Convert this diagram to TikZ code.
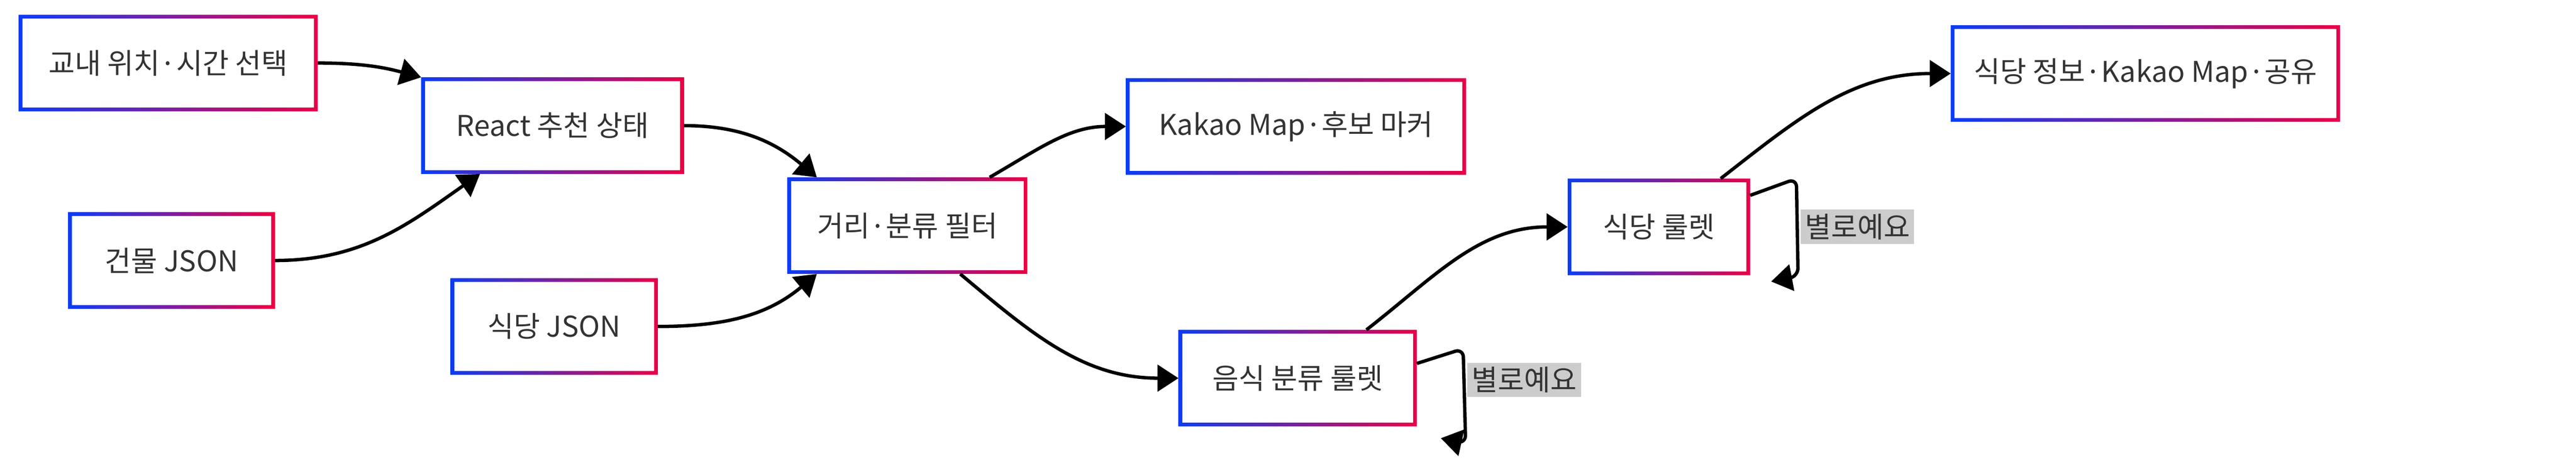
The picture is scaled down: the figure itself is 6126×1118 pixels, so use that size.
\documentclass[tikz,border=0pt]{standalone}
\usepackage{fontspec}
\setmainfont{Noto Sans CJK KR}
\usetikzlibrary{arrows.meta}
\definecolor{gblue}{RGB}{10,60,245}
\definecolor{gred}{RGB}{235,0,70}
\definecolor{txt}{RGB}{51,51,51}
\definecolor{lblbg}{RGB}{204,204,204}

\begin{document}
\begin{tikzpicture}[x=0.1pt,y=-0.1pt,>/.tip={Triangle[length=5pt,width=6.3pt]},
	box/.style={fill=white,text=txt,minimum height=22.6pt,inner sep=0pt,font=\fontsize{6.8pt}{8pt}\selectfont},
	flow/.style={->,line width=0.8pt},
	lbl/.style={fill=lblbg,text=txt,inner sep=1pt,font=\fontsize{6.8pt}{8pt}\selectfont}]
	\useasboundingbox[fill=white] (0,0) rectangle (6126,1118);

	\node (pick) [box,minimum width=70.7pt] at (400,150) {교내 위치·시간 선택};
	\node (react) [box,minimum width=62.1pt] at (1314,299) {React 추천 상태};
	\node (bldg) [box,minimum width=48.8pt] at (408,620) {건물 JSON};
	\node (rest) [box,minimum width=48.9pt] at (1318,777) {식당 JSON};
	\node (filter) [box,minimum width=56.7pt] at (2158,537) {거리·분류 필터};
	\node (map) [box,minimum width=80.5pt] at (3082,301) {Kakao Map·후보 마커};
	\node (cat) [box,minimum width=56.3pt] at (3086,900) {음식 분류 룰렛};
	\node (spin) [box,minimum width=43pt] at (3945,540) {식당 룰렛};
	\node (info) [box,minimum width=92.2pt] at (5102,175) {식당 정보·Kakao Map·공유};

	% gradient borders
	\foreach \n in {pick,react,bldg,rest,filter,map,cat,spin,info}
		\shade[left color=gblue,right color=gred,even odd rule]
			(\n.south west) rectangle (\n.north east)
			([shift={(0.9pt,0.9pt)}]\n.south west) rectangle ([shift={(-0.9pt,-0.9pt)}]\n.north east);

	\draw[flow] (pick.east) to[out=0,in=165] (react.north west);
	\draw[flow] (bldg.east) to[out=0,in=215] ([xshift=14pt]react.south west);
	\draw[flow] (react.east) to[out=0,in=140] ([xshift=7pt]filter.north west);
	\draw[flow] (rest.east) to[out=0,in=220] ([xshift=7pt]filter.south west);
	\draw[flow] ([xshift=-9pt]filter.north east) to[out=30,in=180] (map.west);
	\draw[flow] ([xshift=-16pt]filter.south east) to[out=-40,in=180] (cat.west);
	\draw[flow] ([xshift=-12pt]cat.north east) to[out=38,in=180] (spin.west);
	\draw[flow] ([xshift=-7pt]spin.north east) to[out=38,in=180] (info.west);

	% retry loops
	\draw[flow,rounded corners=2pt] ([yshift=-8pt]cat.north east) -- ++(110,-35) -- ++(6,226) -- ([shift={(5.7pt,-2.8pt)}]cat.south east);
	\draw[flow,rounded corners=2pt] ([yshift=-4pt]spin.north east) -- ++(110,-40) -- ++(4,233) -- ([shift={(5pt,-1.5pt)}]spin.south east);
	\node (nope1) [lbl] at (3625,904) {별로예요};
	\node (nope2) [lbl] at (4417,540) {별로예요};
\end{tikzpicture}
\end{document}
